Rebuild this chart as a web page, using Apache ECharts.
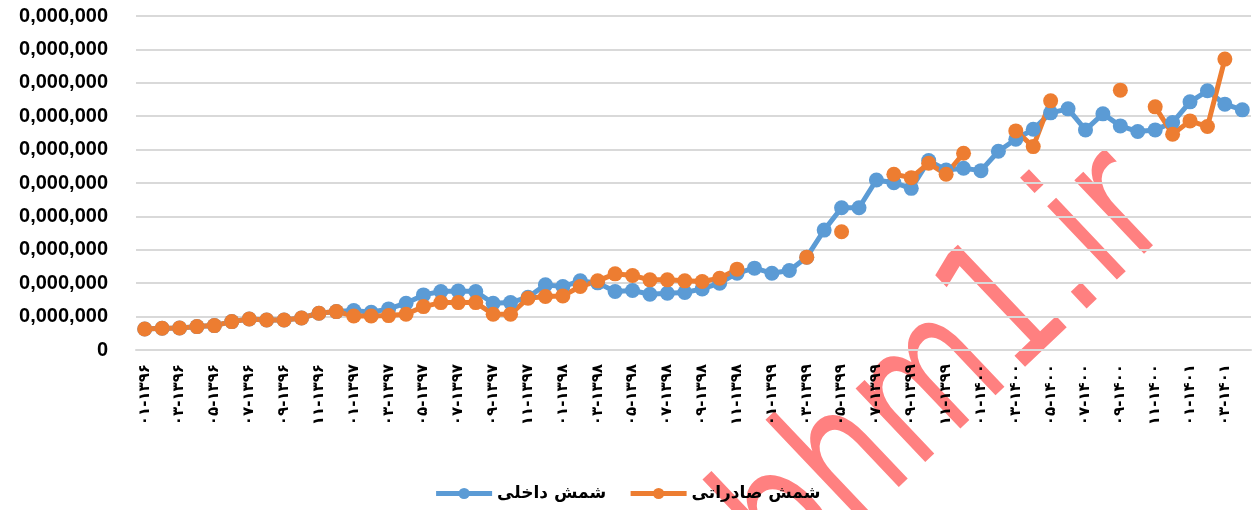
<!DOCTYPE html>
<html>
<head>
<meta charset="utf-8">
<script src="https://cdn.jsdelivr.net/npm/echarts@6/dist/echarts.min.js"></script>
<style>
  html, body { margin: 0; padding: 0; background: #fff; }
  #chart { width: 1254px; height: 510px; }
</style>
</head>
<body>
<div id="chart"></div>
<script>
// months 01-1396 .. 04-1401
var categories = [
  '۰۱-۱۳۹۶','۰۲-۱۳۹۶','۰۳-۱۳۹۶','۰۴-۱۳۹۶','۰۵-۱۳۹۶','۰۶-۱۳۹۶','۰۷-۱۳۹۶','۰۸-۱۳۹۶','۰۹-۱۳۹۶','۱۰-۱۳۹۶','۱۱-۱۳۹۶','۱۲-۱۳۹۶',
  '۰۱-۱۳۹۷','۰۲-۱۳۹۷','۰۳-۱۳۹۷','۰۴-۱۳۹۷','۰۵-۱۳۹۷','۰۶-۱۳۹۷','۰۷-۱۳۹۷','۰۸-۱۳۹۷','۰۹-۱۳۹۷','۱۰-۱۳۹۷','۱۱-۱۳۹۷','۱۲-۱۳۹۷',
  '۰۱-۱۳۹۸','۰۲-۱۳۹۸','۰۳-۱۳۹۸','۰۴-۱۳۹۸','۰۵-۱۳۹۸','۰۶-۱۳۹۸','۰۷-۱۳۹۸','۰۸-۱۳۹۸','۰۹-۱۳۹۸','۱۰-۱۳۹۸','۱۱-۱۳۹۸','۱۲-۱۳۹۸',
  '۰۱-۱۳۹۹','۰۲-۱۳۹۹','۰۳-۱۳۹۹','۰۴-۱۳۹۹','۰۵-۱۳۹۹','۰۶-۱۳۹۹','۰۷-۱۳۹۹','۰۸-۱۳۹۹','۰۹-۱۳۹۹','۱۰-۱۳۹۹','۱۱-۱۳۹۹','۱۲-۱۳۹۹',
  '۰۱-۱۴۰۰','۰۲-۱۴۰۰','۰۳-۱۴۰۰','۰۴-۱۴۰۰','۰۵-۱۴۰۰','۰۶-۱۴۰۰','۰۷-۱۴۰۰','۰۸-۱۴۰۰','۰۹-۱۴۰۰','۱۰-۱۴۰۰','۱۱-۱۴۰۰','۱۲-۱۴۰۰',
  '۰۱-۱۴۰۱','۰۲-۱۴۰۱','۰۳-۱۴۰۱','۰۴-۱۴۰۱'
];

// values in axis steps (one gridline = one step)
var domestic = [
  0.63, 0.65, 0.66, 0.70, 0.73, 0.85, 0.93, 0.90, 0.90, 0.96, 1.10, 1.15,
  1.18, 1.13, 1.23, 1.40, 1.65, 1.75, 1.77, 1.75, 1.40, 1.42, 1.58, 1.95,
  1.90, 2.07, 2.01, 1.75, 1.78, 1.67, 1.70, 1.72, 1.83, 2.00, 2.30, 2.45,
  2.30, 2.38, 2.78, 3.59, 4.26, 4.26, 5.09, 5.01, 4.84, 5.67, 5.39, 5.44,
  5.37, 5.95, 6.31, 6.61, 7.10, 7.22, 6.59, 7.07, 6.71, 6.54, 6.59, 6.81,
  7.43, 7.76, 7.36, 7.19
];

var exported = [
  0.63, 0.65, 0.66, 0.70, 0.73, 0.85, 0.93, 0.90, 0.90, 0.96, 1.10, 1.15,
  1.02, 1.02, 1.03, 1.07, 1.30, 1.42, 1.42, 1.42, 1.07, 1.07, 1.55, 1.60,
  1.62, 1.90, 2.07, 2.28, 2.23, 2.10, 2.10, 2.07, 2.05, 2.15, 2.42, null,
  null, null, 2.78, null, 3.54, null, null, 5.26, 5.16, 5.59, 5.26, 5.89,
  null, null, 6.56, 6.09, 7.46, null, null, null, 7.78, null, 7.28, 6.46,
  6.86, 6.69, 8.71, null
];

var seriesNames = ['شمش داخلی', 'شمش صادراتی'];
var yTickLabel = '0,000,000';
var watermark = 'bhm1.ir';

var chart = echarts.init(document.getElementById('chart'));

var option = {
    animation: false,
    grid: {
        left: 136,
        right: 3,
        top: 16,
        bottom: 160
    },
    legend: {
        data: seriesNames,
        bottom: 3,
        left: 'center',
        itemWidth: 56,
        itemHeight: 14,
        itemGap: 22,
        z: 4,
        lineStyle: { width: 5 },
        textStyle: {
            fontFamily: 'DejaVu Sans',
            fontWeight: 'bold',
            fontSize: 17,
            color: '#000'
        }
    },
    xAxis: {
        type: 'category',
        data: categories,
        boundaryGap: true,
        z: 1,
        axisLine: { lineStyle: { color: '#d9d9d9', width: 2 } },
        axisTick: { show: false },
        axisLabel: {
            interval: 1,
            rotate: 90,
            margin: 14,
            color: '#000',
            fontFamily: 'DejaVu Sans',
            fontWeight: 'bold',
            fontSize: 15
        }
    },
    yAxis: {
        type: 'value',
        min: 0,
        max: 10,
        interval: 1,
        z: 1,
        axisLine: { show: false },
        axisTick: { show: false },
        splitLine: { lineStyle: { color: '#d9d9d9', width: 2 } },
        axisLabel: {
            margin: 28,
            color: '#000',
            fontFamily: 'Liberation Sans',
            fontWeight: 'bold',
            fontSize: 20,
            formatter: function (v) {
                return v === 0 ? '0' : yTickLabel;
            }
        }
    },
    series: [{
        name: seriesNames[0],
        type: 'line',
        data: domestic,
        symbol: 'circle',
        symbolSize: 15,
        showAllSymbol: true,
        lineStyle: { width: 5, color: '#5b9bd5' },
        itemStyle: { color: '#5b9bd5' }
    }, {
        name: seriesNames[1],
        type: 'line',
        data: exported,
        symbol: 'circle',
        symbolSize: 15,
        showAllSymbol: true,
        connectNulls: false,
        lineStyle: { width: 5, color: '#ed7d31' },
        itemStyle: { color: '#ed7d31' }
    }],
    // pink site watermark behind the chart
    graphic: [{
        type: 'text',
        x: 950,
        y: 372,
        rotation: 0.76,
        scaleX: 0.74,
        z: -10,
        silent: true,
        style: {
            text: watermark,
            fill: '#ff8080',
            font: 'normal 185px "DejaVu Sans"',
            align: 'center',
            verticalAlign: 'middle'
        }
    }]
};

chart.setOption(option);
</script>
</body>
</html>
